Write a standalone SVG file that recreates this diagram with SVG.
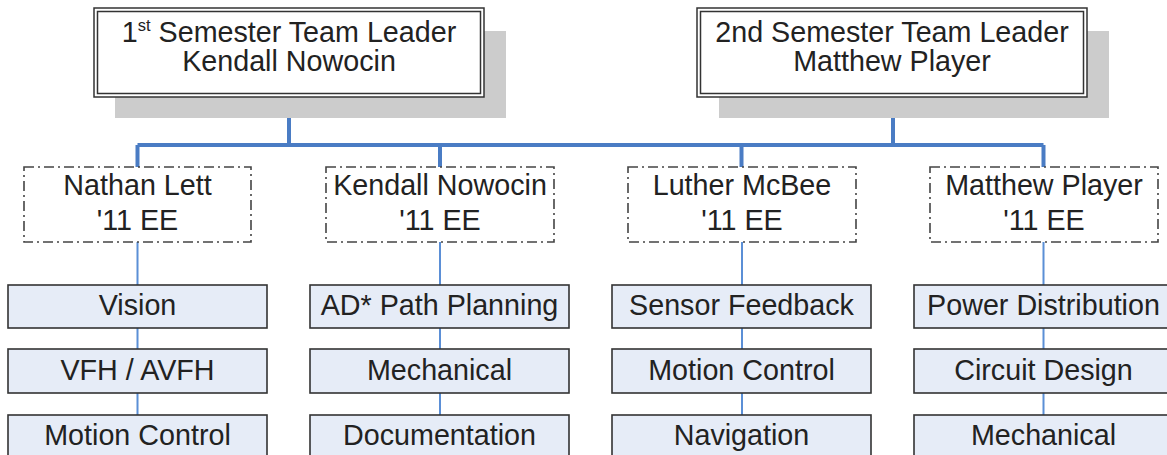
<svg xmlns="http://www.w3.org/2000/svg" width="1167" height="455" viewBox="0 0 1167 455">
<style>
text{font-family:"Liberation Sans",Arial,sans-serif;font-size:28.7px;fill:#222;text-anchor:middle}
.shadow{fill:#cccccc}
.outer{fill:#fff;stroke:#333;stroke-width:1.5}
.inner{fill:none;stroke:#333;stroke-width:1.5}
.dash{fill:#fff;stroke:#444;stroke-width:1.6;stroke-dasharray:10 4 2 4}
.task{fill:#e6ecf7;stroke:#333;stroke-width:1.6}
.bus{fill:none;stroke:#4a7cc4;stroke-width:4}
.thin{fill:none;stroke:#5b8fd6;stroke-width:2}
</style>
<g id="connectors">
<path class="bus" d="M289 97V145M893 97V145M137.5 145H1043.5M137.5 145V167M440 145V167M741.5 145V167M1043.5 145V167"/>
<path class="thin" d="M137.5 242V285M137.5 328V349M137.5 393V415"/>
<path class="thin" d="M440 242V285M440 328V349M440 393V415"/>
<path class="thin" d="M742 242V285M742 328V349M742 393V415"/>
<path class="thin" d="M1043.5 242V285M1043.5 328V349M1043.5 393V415"/>
</g>
<g id="leader1">
<rect class="shadow" x="115" y="31" width="391" height="87"/>
<rect class="outer" x="94" y="8" width="390" height="89"/>
<rect class="inner" x="97.5" y="11.5" width="383" height="82"/>
<text x="289" y="42">1<tspan font-size="16.5" dy="-11">st</tspan><tspan dy="11"> Semester Team Leader</tspan></text>
<text x="289" y="71">Kendall Nowocin</text>
</g>
<g id="leader2">
<rect class="shadow" x="719" y="31" width="390" height="87"/>
<rect class="outer" x="697" y="8" width="390" height="89"/>
<rect class="inner" x="700.5" y="11.5" width="383" height="82"/>
<text x="892" y="42">2nd Semester Team Leader</text>
<text x="892" y="71">Matthew Player</text>
</g>
<g id="nathan">
<rect class="dash" x="24" y="167" width="227" height="75"/>
<text x="137.5" y="195">Nathan Lett</text>
<text x="137.5" y="230">'11 EE</text>
</g>
<g id="kendall">
<rect class="dash" x="326" y="167" width="228" height="75"/>
<text x="440" y="195">Kendall Nowocin</text>
<text x="440" y="230">'11 EE</text>
</g>
<g id="luther">
<rect class="dash" x="628" y="167" width="228" height="75"/>
<text x="742" y="195">Luther McBee</text>
<text x="742" y="230">'11 EE</text>
</g>
<g id="matthew">
<rect class="dash" x="930" y="167" width="228" height="75"/>
<text x="1044" y="195">Matthew Player</text>
<text x="1044" y="230">'11 EE</text>
</g>
<g id="nathan-tasks">
<rect class="task" x="8" y="285" width="259" height="43"/><text x="137.5" y="315">Vision</text>
<rect class="task" x="8" y="349" width="259" height="44"/><text x="137.5" y="380">VFH / AVFH</text>
<rect class="task" x="8" y="415" width="259" height="44"/><text x="137.5" y="445">Motion Control</text>
</g>
<g id="kendall-tasks">
<rect class="task" x="310" y="285" width="259" height="43"/><text x="439.5" y="315">AD* Path Planning</text>
<rect class="task" x="310" y="349" width="259" height="44"/><text x="439.5" y="380">Mechanical</text>
<rect class="task" x="310" y="415" width="259" height="44"/><text x="439.5" y="445">Documentation</text>
</g>
<g id="luther-tasks">
<rect class="task" x="612" y="285" width="259" height="43"/><text x="741.5" y="315">Sensor Feedback</text>
<rect class="task" x="612" y="349" width="259" height="44"/><text x="741.5" y="380">Motion Control</text>
<rect class="task" x="612" y="415" width="259" height="44"/><text x="741.5" y="445">Navigation</text>
</g>
<g id="matthew-tasks">
<rect class="task" x="914" y="285" width="259" height="43"/><text x="1043.5" y="315">Power Distribution</text>
<rect class="task" x="914" y="349" width="259" height="44"/><text x="1043.5" y="380">Circuit Design</text>
<rect class="task" x="914" y="415" width="259" height="44"/><text x="1043.5" y="445">Mechanical</text>
</g>
</svg>
